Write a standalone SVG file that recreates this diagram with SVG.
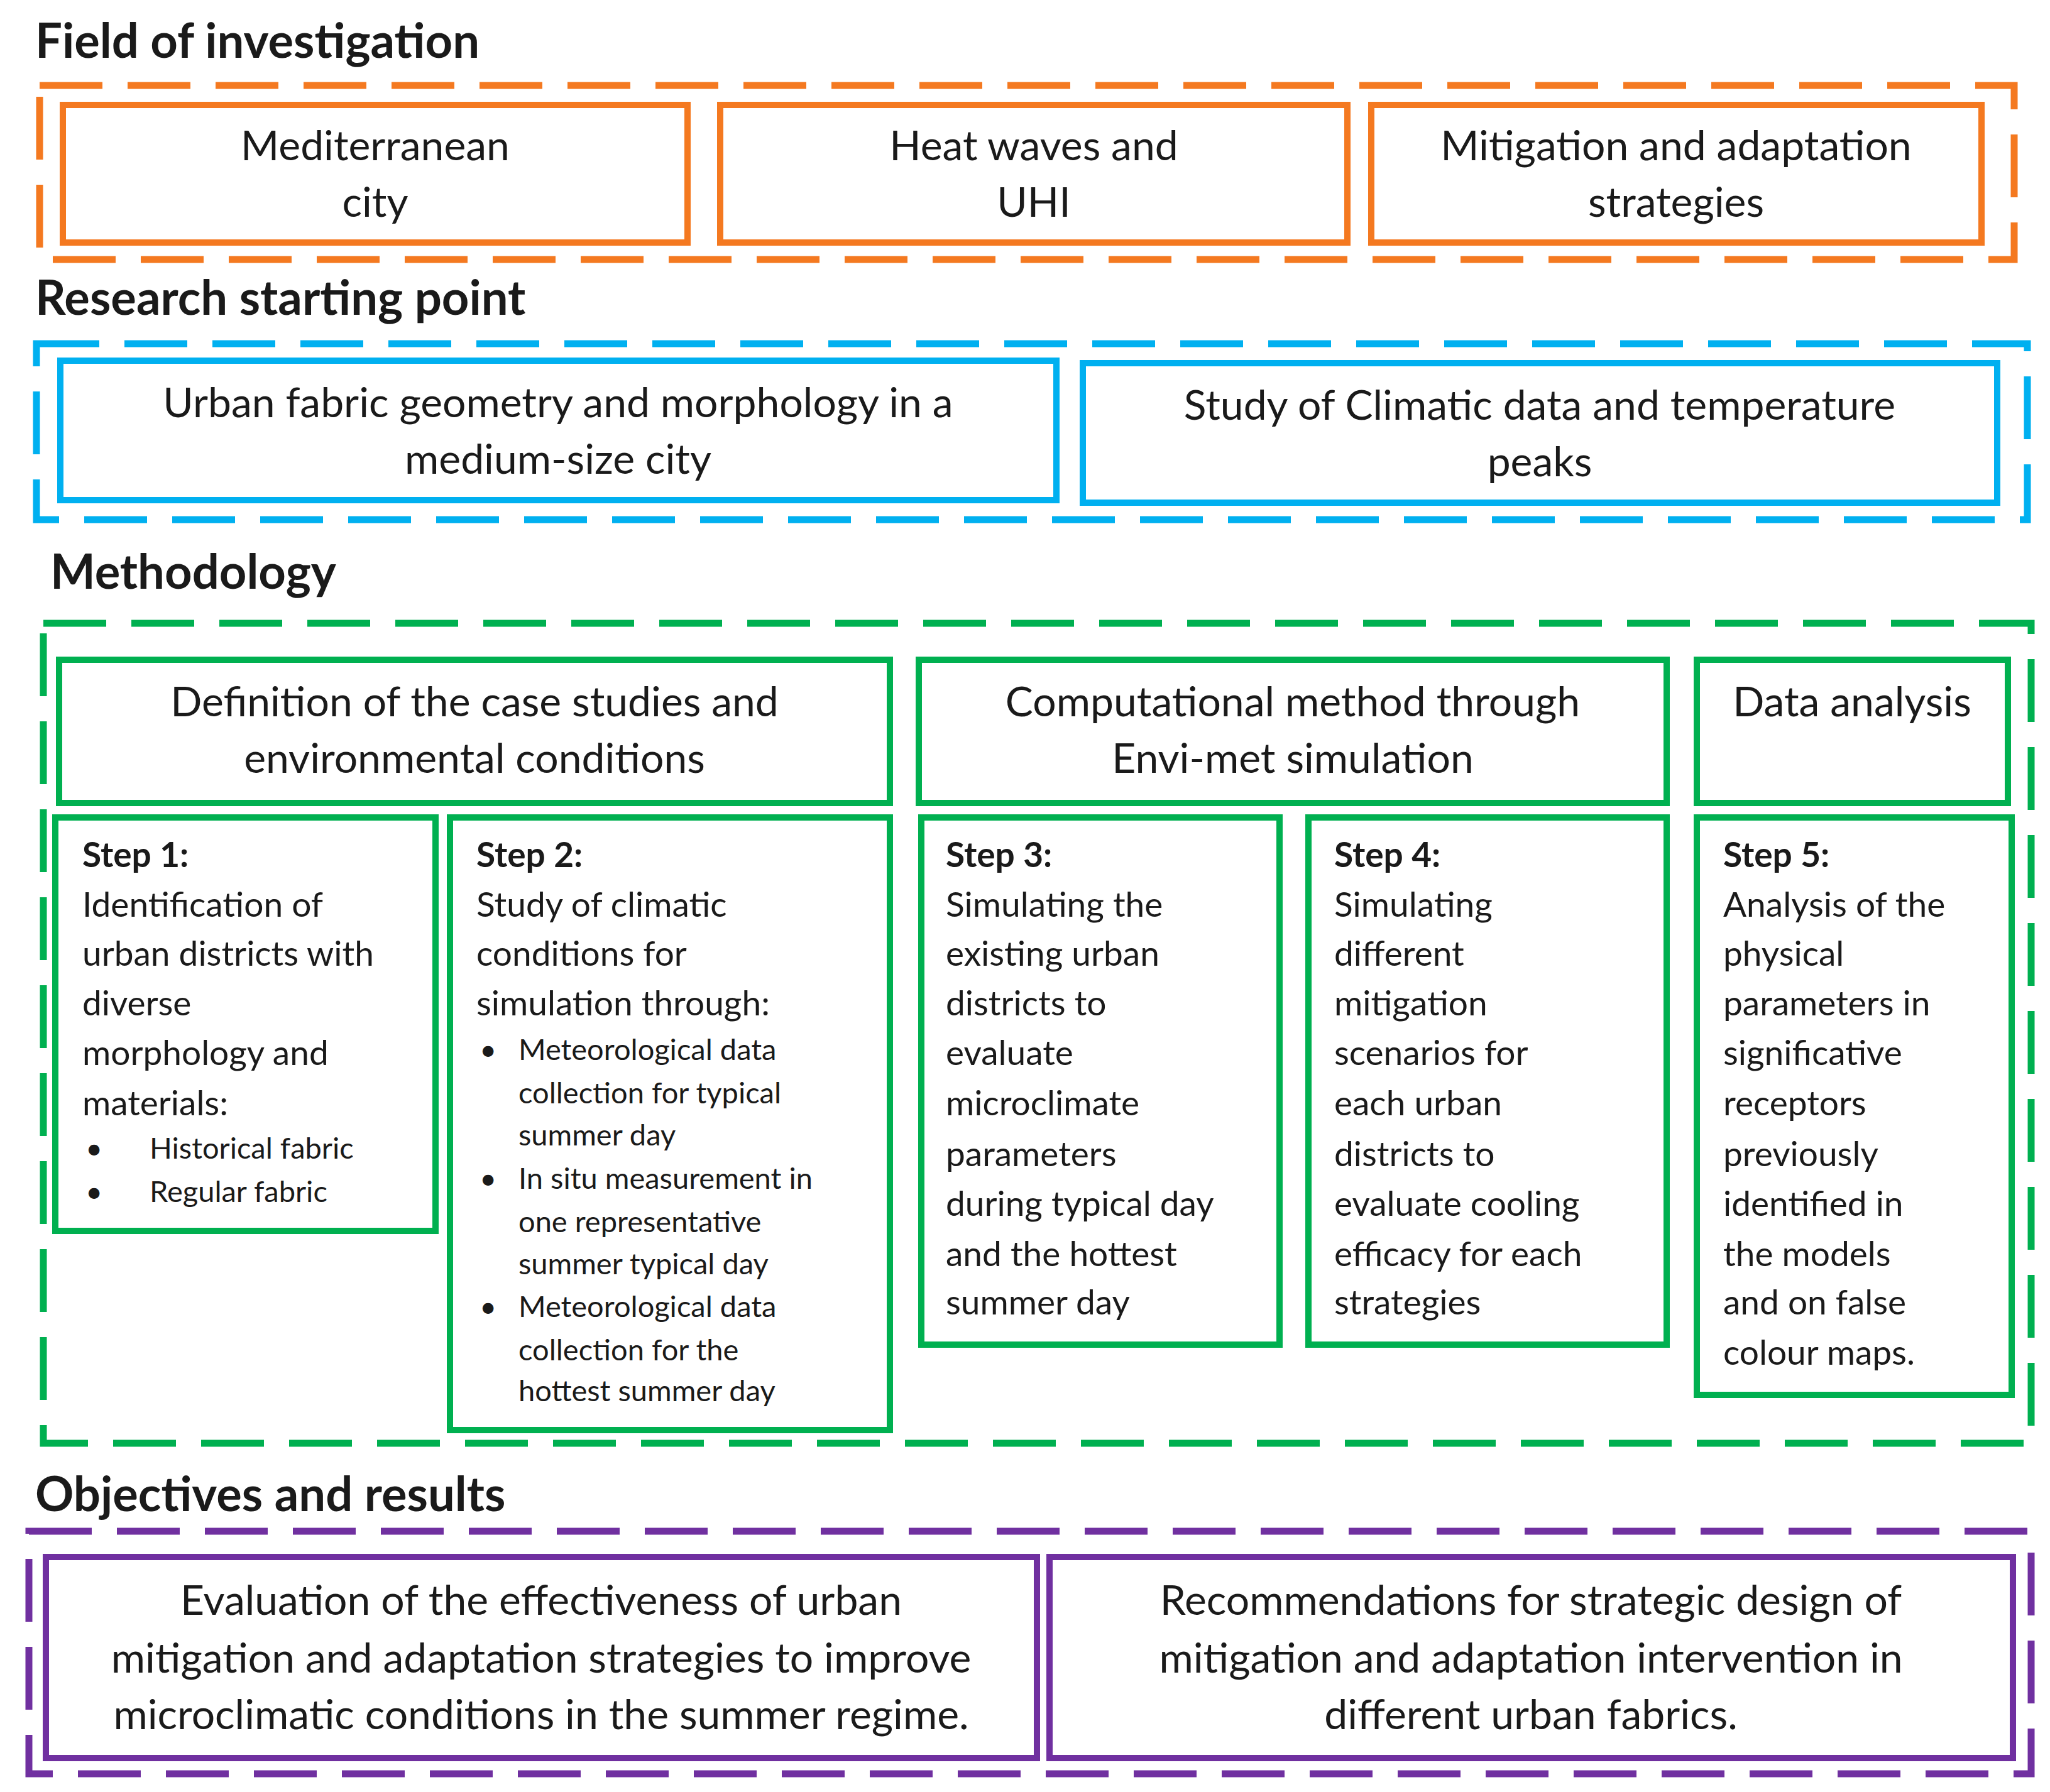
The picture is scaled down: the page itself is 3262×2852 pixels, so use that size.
<svg xmlns="http://www.w3.org/2000/svg" width="3262" height="2852" viewBox="0 0 3262 2852">
<style>
text{font-family:Lato,"Liberation Sans",sans-serif;fill:#1a1a1a}
.t{font-size:76px;font-weight:bold}
.c{font-size:66px;text-anchor:middle}
.s{font-size:55px}
.sb{font-size:55px;font-weight:bold}
.b{font-size:47px}
.o{stroke:#F47920}.bl{stroke:#00B0F0}.g{stroke:#00B050}.p{stroke:#7030A0}
rect{fill:none;stroke-width:10}
.d{stroke-dasharray:100 40;stroke-width:11}
</style>
<rect width="3262" height="2852" fill="#fff" style="stroke:none"/>
<g id="titles">
<text class="t" x="56" y="92">Field of investigation</text>
<text class="t" x="56" y="501">Research starting point</text>
<text class="t" x="80" y="937">Methodology</text>
<text class="t" x="56" y="2405">Objectives and results</text>
</g>
<g id="frames">
<rect class="o d" x="63" y="136" width="3142" height="277"/>
<rect class="bl d" x="58" y="547" width="3168" height="280"/>
<rect class="g d" x="69" y="992" width="3163" height="1305"/>
<rect class="p d" x="46" y="2437" width="3186" height="386"/>
</g>
<g id="connectors"></g>
<g id="f1"><rect class="o" x="100" y="167" width="994" height="219"/><text class="c" x="597" y="255">Mediterranean</text><text class="c" x="597" y="345">city</text></g>
<g id="f2"><rect class="o" x="1146" y="167" width="998" height="219"/><text class="c" x="1645" y="255">Heat waves and</text><text class="c" x="1645" y="345">UHI</text></g>
<g id="f3"><rect class="o" x="2182" y="167" width="971" height="219"/><text class="c" x="2667" y="255">Mitigation and adaptation</text><text class="c" x="2667" y="345">strategies</text></g>
<g id="r1"><rect class="bl" x="96" y="574" width="1585" height="222"/><text class="c" x="888" y="664">Urban fabric geometry and morphology in a</text><text class="c" x="888" y="754">medium-size city</text></g>
<g id="r2"><rect class="bl" x="1723" y="578" width="1455" height="222"/><text class="c" x="2450" y="668">Study of Climatic data and temperature</text><text class="c" x="2450" y="758">peaks</text></g>
<g id="h1"><rect class="g" x="94" y="1050" width="1322" height="228"/><text class="c" x="755" y="1140">Definition of the case studies and</text><text class="c" x="755" y="1230">environmental conditions</text></g>
<g id="h2"><rect class="g" x="1462" y="1050" width="1190" height="228"/><text class="c" x="2057" y="1140">Computational method through</text><text class="c" x="2057" y="1230">Envi-met simulation</text></g>
<g id="h3"><rect class="g" x="2700" y="1050" width="495" height="228"/><text class="c" x="2947" y="1140">Data analysis</text></g>
<g id="s1"><rect class="g" x="88" y="1301" width="605" height="658"/>
<text class="sb" x="131" y="1380">Step 1:</text>
<text class="s" x="131" y="1459">Identification of</text>
<text class="s" x="131" y="1537">urban districts with</text>
<text class="s" x="131" y="1616">diverse</text>
<text class="s" x="131" y="1695">morphology and</text>
<text class="s" x="131" y="1775">materials:</text>
<text class="b" x="136" y="1844">•</text><text class="b" x="238" y="1844">Historical fabric</text>
<text class="b" x="136" y="1913">•</text><text class="b" x="238" y="1913">Regular fabric</text>
</g>
<g id="s2"><rect class="g" x="716" y="1301" width="700" height="975"/>
<text class="sb" x="758" y="1380">Step 2:</text>
<text class="s" x="758" y="1459">Study of climatic</text>
<text class="s" x="758" y="1537">conditions for</text>
<text class="s" x="758" y="1616">simulation through:</text>
<text class="b" x="763" y="1687">•</text><text class="b" x="825" y="1687">Meteorological data</text>
<text class="b" x="825" y="1756">collection for typical</text>
<text class="b" x="825" y="1823">summer day</text>
<text class="b" x="763" y="1892">•</text><text class="b" x="825" y="1892">In situ measurement in</text>
<text class="b" x="825" y="1961">one representative</text>
<text class="b" x="825" y="2028">summer typical day</text>
<text class="b" x="763" y="2096">•</text><text class="b" x="825" y="2096">Meteorological data</text>
<text class="b" x="825" y="2165">collection for the</text>
<text class="b" x="825" y="2230">hottest summer day</text>
</g>
<g id="s3"><rect class="g" x="1466" y="1301" width="570" height="839"/>
<text class="sb" x="1505" y="1380">Step 3:</text>
<text class="s" x="1505" y="1459">Simulating the</text>
<text class="s" x="1505" y="1537">existing urban</text>
<text class="s" x="1505" y="1616">districts to</text>
<text class="s" x="1505" y="1695">evaluate</text>
<text class="s" x="1505" y="1775">microclimate</text>
<text class="s" x="1505" y="1856">parameters</text>
<text class="s" x="1505" y="1935">during typical day</text>
<text class="s" x="1505" y="2015">and the hottest</text>
<text class="s" x="1505" y="2092">summer day</text>
</g>
<g id="s4"><rect class="g" x="2082" y="1301" width="570" height="839"/>
<text class="sb" x="2123" y="1380">Step 4:</text>
<text class="s" x="2123" y="1459">Simulating</text>
<text class="s" x="2123" y="1537">different</text>
<text class="s" x="2123" y="1616">mitigation</text>
<text class="s" x="2123" y="1695">scenarios for</text>
<text class="s" x="2123" y="1775">each urban</text>
<text class="s" x="2123" y="1856">districts to</text>
<text class="s" x="2123" y="1935">evaluate cooling</text>
<text class="s" x="2123" y="2015">efficacy for each</text>
<text class="s" x="2123" y="2092">strategies</text>
</g>
<g id="s5"><rect class="g" x="2700" y="1301" width="501" height="919"/>
<text class="sb" x="2742" y="1380">Step 5:</text>
<text class="s" x="2742" y="1459">Analysis of the</text>
<text class="s" x="2742" y="1537">physical</text>
<text class="s" x="2742" y="1616">parameters in</text>
<text class="s" x="2742" y="1695">significative</text>
<text class="s" x="2742" y="1775">receptors</text>
<text class="s" x="2742" y="1856">previously</text>
<text class="s" x="2742" y="1935">identified in</text>
<text class="s" x="2742" y="2015">the models</text>
<text class="s" x="2742" y="2092">and on false</text>
<text class="s" x="2742" y="2172">colour maps.</text>
</g>
<g id="o1"><rect class="p" x="73" y="2478" width="1577" height="320"/>
<text class="c" x="861" y="2570">Evaluation of the effectiveness of urban</text>
<text class="c" x="861" y="2662">mitigation and adaptation strategies to improve</text>
<text class="c" x="861" y="2752">microclimatic conditions in the summer regime.</text></g>
<g id="o2"><rect class="p" x="1670" y="2478" width="1533" height="320"/>
<text class="c" x="2436" y="2570">Recommendations for strategic design of</text>
<text class="c" x="2436" y="2662">mitigation and adaptation intervention in</text>
<text class="c" x="2436" y="2752">different urban fabrics.</text></g>
</svg>
